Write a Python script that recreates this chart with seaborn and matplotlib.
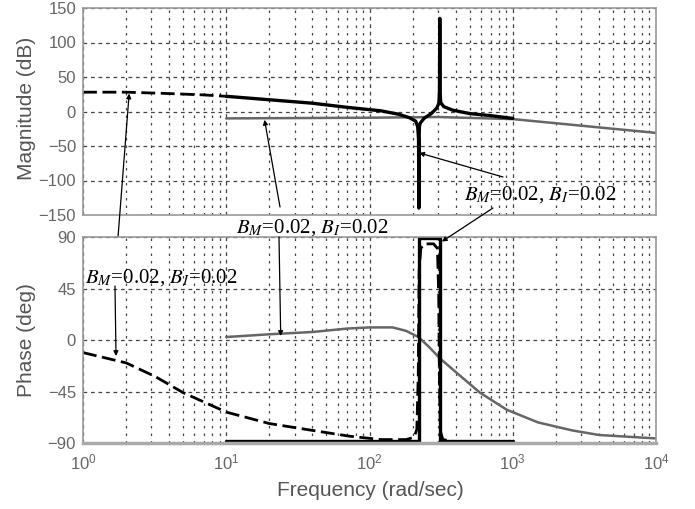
import numpy as np
import pandas as pd
import matplotlib
matplotlib.use("Agg")
import matplotlib.pyplot as plt
import seaborn as sns
from matplotlib.ticker import LogLocator, FixedLocator, NullFormatter

sns.set_theme(style="white")
plt.rcParams['font.family'] = ['Liberation Sans', 'DejaVu Sans']
plt.rcParams['mathtext.fontset'] = 'stix'

# ---- data ----
# dashed curve
dash_mag_w = [1, 2, 4, 7, 10]
dash_mag_db = [28, 28, 26, 24, 22]
dash_ph_w = [1, 2, 3.2, 5, 10, 20, 40, 72, 120, 180, 205, 214, 219, 222, 228, 240, 280, 298, 304, 308, 313, 325, 400, 530]
dash_ph_deg = [-11, -20, -32, -46, -63, -73, -79, -84, -87, -87, -85, -78, -30, 60, 80, 84, 84, 80, 40, -40, -80, -87, -89, -89]

# solid black curve
blk_mag_w = [10, 20, 40, 70, 120, 160, 190, 210, 217, 220, 221, 222, 223, 226, 240, 270, 295, 305, 308, 309.5, 311, 314, 330, 380, 500, 700, 1000]
blk_mag_db = [22, 17, 12, 6, 1, -4, -9, -14, -22, -40, -140, -40, -22, -17, -10, -3, 5, 12, 30, 135, 30, 13, 7, 2, -3, -6, -10]
blk_ph_w = [10, 220, 220, 309, 309, 1000]
blk_ph_deg = [-88, -88, 89, 89, -88, -88]

# gray curve
gry_mag_w = [10, 100, 300, 1000, 2000, 5000, 10000]
gry_mag_db = [-10, -9, -8, -11, -17, -25, -31]
gry_ph_w = [10, 20, 40, 70, 100, 145, 180, 220, 260, 310, 400, 590, 910, 1500, 2600, 4000, 10000]
gry_ph_deg = [2.6, 5, 7, 10, 11, 11, 8, 2.5, -6, -16, -28, -46, -61, -72, -79, -83, -86]

mag_ticks = [-150, -100, -50, 0, 50, 100, 150]
ph_ticks = [-90, -45, 0, 45, 90]
label_txt = r'$B_M$=0.02, $B_I$=0.02'

W, H = 695, 509
fig = plt.figure(figsize=(W / 100, H / 100), dpi=100)
ax1 = fig.add_axes([83 / W, 1 - 215 / H, 573 / W, 207 / H])
ax2 = fig.add_axes([83 / W, 1 - 443 / H, 573 / W, 206 / H])

gray = '#666666'
sns.lineplot(x=gry_mag_w, y=gry_mag_db, ax=ax1, color=gray, lw=1.8, estimator=None, sort=False)
sns.lineplot(x=dash_mag_w, y=dash_mag_db, ax=ax1, color='black', lw=2.0, estimator=None, sort=False, linestyle=(0, (5, 2)))
sns.lineplot(x=blk_mag_w, y=blk_mag_db, ax=ax1, color='black', lw=2.4, estimator=None, sort=False)

sns.lineplot(x=gry_ph_w, y=gry_ph_deg, ax=ax2, color=gray, lw=1.8, estimator=None, sort=False)
sns.lineplot(x=dash_ph_w, y=dash_ph_deg, ax=ax2, color='black', lw=2.0, estimator=None, sort=False, linestyle=(0, (5, 2)))
sns.lineplot(x=blk_ph_w, y=blk_ph_deg, ax=ax2, color='black', lw=2.4, estimator=None, sort=False)

for ax, ticks in ((ax1, mag_ticks), (ax2, ph_ticks)):
    ax.set_xscale('log')
    ax.set_xlim(1, 1e4)
    ax.set_ylim(ticks[0], ticks[-1])
    ax.yaxis.set_major_locator(FixedLocator(ticks))
    ax.xaxis.set_major_locator(LogLocator(base=10, numticks=10))
    ax.xaxis.set_minor_locator(LogLocator(base=10, subs=np.arange(2, 10), numticks=20))
    ax.xaxis.set_minor_formatter(NullFormatter())
    ax.grid(True, which='major', axis='both', color='#444444', lw=0.9, linestyle=(0, (3, 3)))
    ax.grid(True, which='minor', axis='x', color='#444444', lw=0.9, linestyle=(0, (2, 4)))
    ax.tick_params(axis='both', which='both', length=0, labelsize=12, labelcolor='#666666', pad=5)
    for s in ax.spines.values():
        s.set_color('#999999')
        s.set_linewidth(1.2)
    ax.set_xlabel('')
    ax.set_ylabel('')

ax1.tick_params(axis='x', labelbottom=False)
ax2.tick_params(axis='x', pad=7)
ax2.spines['bottom'].set_linewidth(2.5)
ax2.spines['bottom'].set_color('#aaaaaa')

fig.text(26 / W, 1 - 108 / H, 'Magnitude (dB)', rotation=90, ha='center', va='center', fontsize=15, color='#555555')
fig.text(26 / W, 1 - 340 / H, 'Phase (deg)', rotation=90, ha='center', va='center', fontsize=15, color='#555555')
fig.text(370 / W, 1 - 490 / H, 'Frequency (rad/sec)', ha='center', va='center', fontsize=15, color='#555555')

tfont = dict(family='Liberation Serif', fontsize=15, color='black')
fig.text(312 / W, 1 - 228 / H, label_txt, ha='center', va='center', **tfont)
fig.text(161 / W, 1 - 278 / H, label_txt, ha='center', va='center', **tfont)
fig.text(540 / W, 1 - 195 / H, label_txt, ha='center', va='center', **tfont)

aprops = dict(arrowstyle='-|>', color='black', lw=0.9, mutation_scale=7, shrinkA=0, shrinkB=0)

def arrow(ax, xy, tail):
    ax.annotate('', xy=xy, xycoords='data', xytext=(tail[0] / W, 1 - tail[1] / H),
                textcoords='figure fraction', arrowprops=aprops, annotation_clip=False)

# middle text arrows
arrow(ax1, (18.5, -12), (280, 207))
arrow(ax2, (24, 3.5), (279, 237))
# left text arrows
arrow(ax1, (2.1, 26), (116, 263))
arrow(ax2, (1.7, -14), (115, 286))
# right text arrows
arrow(ax1, (222, -60), (503, 177))
arrow(ax2, (320, 86), (493, 208))

fig.savefig('out.png', dpi=100)
